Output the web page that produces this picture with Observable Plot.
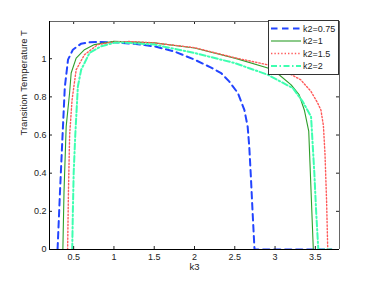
<!DOCTYPE html>
<html><head><meta charset="utf-8">
<script src="https://cdn.jsdelivr.net/npm/d3@7"></script>
<script src="https://cdn.jsdelivr.net/npm/@observablehq/plot@0.6"></script>
<style>html,body{margin:0;padding:0;background:#fff}#chart svg{display:block}</style>
</head><body><div id="chart"></div>
<script>
// ---- data ----
const xTicks = [0.5, 1, 1.5, 2, 2.5, 3, 3.5];
const yTicks = [0, 0.2, 0.4, 0.6, 0.8, 1];
const seriesNames = ["k2=0.75", "k2=1", "k2=1.5", "k2=2"];

const k3_075 = [0.30, 0.33, 0.36, 0.39, 0.43, 0.49, 0.59, 0.70, 0.80, 1.0, 1.25, 1.5, 1.75, 2.0, 2.2, 2.33, 2.43, 2.54, 2.62, 2.66, 2.68, 2.70, 2.72, 2.745, 3.0, 3.5, 3.7];
const T_075  = [0, 0.30, 0.58, 0.85, 0.995, 1.047, 1.078, 1.086, 1.088, 1.086, 1.078, 1.065, 1.038, 0.995, 0.955, 0.925, 0.881, 0.819, 0.73, 0.644, 0.538, 0.38, 0.205, 0, 0, 0, 0];

const k3_1 = [0.366, 0.38, 0.407, 0.449, 0.469, 0.531, 0.634, 0.758, 1.0, 1.5, 2.0, 2.5, 2.91, 3.05, 3.2, 3.30, 3.364, 3.418, 3.475, 3.6, 3.7];
const T_1  = [0, 0.30, 0.644, 0.819, 0.925, 1.003, 1.047, 1.074, 1.091, 1.083, 1.056, 1.003, 0.951, 0.916, 0.863, 0.81, 0.73, 0.621, 0, 0, 0];

const k3_15 = [0.425, 0.435, 0.45, 0.48, 0.531, 0.634, 0.80, 1.0, 1.2, 1.5, 2.0, 2.5, 2.91, 3.1, 3.32, 3.447, 3.53, 3.57, 3.60, 3.62, 3.64, 3.654, 3.7];
const T_15  = [0, 0.30, 0.60, 0.784, 0.942, 1.021, 1.074, 1.088, 1.09, 1.083, 1.058, 1.005, 0.968, 0.94, 0.889, 0.828, 0.767, 0.73, 0.65, 0.5, 0.25, 0, 0];

const k3_2 = [0.482, 0.49, 0.50, 0.52, 0.552, 0.593, 0.696, 0.841, 1.0, 1.1, 1.5, 2.0, 2.5, 2.91, 3.22, 3.344, 3.447, 3.488, 3.51, 3.537, 3.7];
const T_2  = [0, 0.2, 0.4, 0.6, 0.854, 0.942, 1.03, 1.065, 1.083, 1.085, 1.074, 1.03, 0.977, 0.916, 0.846, 0.775, 0.696, 0.398, 0.2, 0, 0];

// ---- styles ----
const styles = [
  {stroke: "#2244ff", strokeWidth: 2, strokeDasharray: "6.5,4.5"},
  {stroke: "#2e9e2a", strokeWidth: 1.1, strokeDasharray: null},
  {stroke: "#ff5a5a", strokeWidth: 1.4, strokeDasharray: "1.4,2"},
  {stroke: "#3dffb0", strokeWidth: 2, strokeDasharray: "6,2.5,1.5,2.5"}
];
const xs = [k3_075, k3_1, k3_15, k3_2];
const ys = [T_075, T_1, T_15, T_2];
const series = xs.map((arr, i) => arr.map((x, j) => ({k3: x, T: ys[i][j]})));

const W = 374, H = 281, mL = 49, mR = 35, mT = 21, mB = 32;
const innerW = W - mL - mR, innerH = H - mT - mB, tk = 3;
const xDom = [0.2, 3.8], yDom = [0, 1.195];

const lineMarks = series.map((d, i) => Plot.line(d, {
  x: "k3", y: "T", clip: true, ...Object.fromEntries(Object.entries(styles[i]).filter(([k, v]) => v != null))
}));

const plot = Plot.plot({
  width: W, height: H,
  marginLeft: mL, marginRight: mR, marginTop: mT, marginBottom: mB,
  style: {fontFamily: "'Liberation Sans', Arial, sans-serif", fontSize: "9px", background: "#fff", color: "#222"},
  x: {domain: xDom, label: null},
  y: {domain: yDom, label: null},
  marks: [
    ...lineMarks,
    Plot.ruleX(xTicks, {insetTop: innerH - tk, stroke: "#222"}),
    Plot.ruleX(xTicks, {insetBottom: innerH - tk, stroke: "#222"}),
    Plot.ruleY(yTicks, {insetRight: innerW - tk, stroke: "#222"}),
    Plot.ruleY(yTicks, {insetLeft: innerW - tk, stroke: "#222"}),
    Plot.axisX({ticks: xTicks, tickSize: 0, tickPadding: 4, tickFormat: d => String(d)}),
    Plot.axisY({ticks: yTicks, tickSize: 0, tickPadding: 3, tickFormat: d => String(d)}),
    Plot.ruleX([xDom[1]], {stroke: "#666"}),
    Plot.ruleY([yDom[1]], {stroke: "#666"}),
    Plot.ruleX([xDom[0]], {stroke: "#000"}),
    Plot.ruleY([yDom[0]], {stroke: "#000"}),
    Plot.text(["k3"], {frameAnchor: "bottom", lineAnchor: "top", dy: 14, fontSize: 9.5}),
    Plot.text(["Transition Temperature T"], {frameAnchor: "left", rotate: -90, dx: -26, fontSize: 9.5})
  ]
});

// ---- legend (inside plot, upper right) ----
const svg = d3.select(plot);
const lg = svg.append("g").attr("font-family", "'Liberation Sans', Arial, sans-serif")
  .attr("font-size", 9).attr("text-anchor", "start");
const bx = 268.5, by = 20.5, bw = 70, bh = 54;
lg.append("rect").attr("x", bx).attr("y", by).attr("width", bw).attr("height", bh)
  .attr("fill", "#fff").attr("stroke", "#333").attr("stroke-width", 1);
seriesNames.forEach((name, i) => {
  const yy = 28.5 + i * 12.5;
  const s = styles[i];
  const ln = lg.append("line").attr("x1", 271).attr("x2", 301).attr("y1", yy).attr("y2", yy)
    .attr("stroke", s.stroke).attr("stroke-width", s.strokeWidth);
  if (s.strokeDasharray) ln.attr("stroke-dasharray", s.strokeDasharray);
  lg.append("text").attr("x", 303).attr("y", yy).attr("dy", "0.35em")
    .attr("text-anchor", "start").attr("fill", "#222").text(name);
});

document.getElementById("chart").appendChild(plot);
</script>
</body></html>
